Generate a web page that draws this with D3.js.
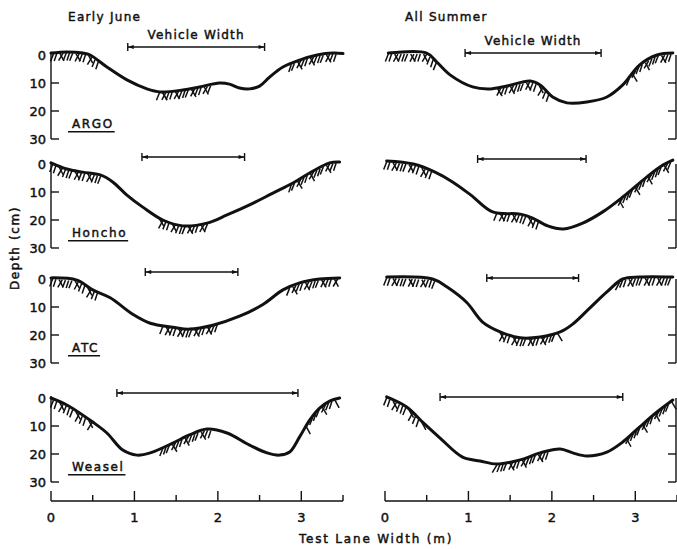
<!DOCTYPE html>
<html><head><meta charset="utf-8">
<script src="https://cdn.jsdelivr.net/npm/d3@7"></script>
<style>body{margin:0;background:#fff}svg{display:block}text{font-family:"DejaVu Sans",sans-serif;fill:#111;stroke:#111;stroke-width:0.45px}</style>
</head><body><svg id="c" width="677" height="549"></svg>
<script>
// ---------- data ----------
const vehicles = ["ARGO", "Honcho", "ATC", "Weasel"];
const seasons = ["Early June", "All Summer"];
const xTickLabels = [0, 1, 2, 3];
const yTickLabels = [0, 10, 20, 30];

// profiles: [lane width (m), depth (cm)]
const argoJune = [[0,-0.7],[0.19,-1.1],[0.38,-0.7],[0.47,0],[0.67,4.3],[0.91,8.9],[1.15,12.1],[1.31,13.2],[1.58,12.5],[1.78,11.4],[2.02,10],[2.14,10.4],[2.26,11.8],[2.38,12.1],[2.5,11.1],[2.62,7.9],[2.78,4.3],[2.98,1.8],[3.19,0],[3.38,-0.7],[3.5,-0.5]];
const argoSummer = [[0.04,-0.7],[0.5,-0.7],[0.62,2.5],[0.78,7.1],[1.05,11.4],[1.26,12.1],[1.46,11.1],[1.74,9.3],[1.86,10.7],[2.01,15],[2.18,17.1],[2.42,16.8],[2.66,15],[2.85,10.7],[3.05,3.6],[3.26,0],[3.45,-0.7]];
const honchoJune = [[0,-0.4],[0.19,1.8],[0.38,2.9],[0.59,3.9],[0.74,6.4],[0.91,11.1],[1.1,15.4],[1.34,20],[1.58,22.1],[1.87,21.1],[2.11,18.2],[2.38,14.6],[2.66,10.4],[2.9,6.8],[3.1,3.2],[3.34,-0.4],[3.46,-0.7]];
const honchoSummer = [[0.02,-1.1],[0.34,0],[0.6,2.9],[0.81,6.4],[1.03,11.1],[1.29,17.1],[1.62,17.9],[1.77,19.3],[1.95,22.1],[2.14,23.2],[2.37,21.1],[2.61,17.1],[2.85,11.8],[3.14,4.6],[3.33,0.4],[3.45,-1.4]];
const atcJune = [[0,-0.4],[0.31,0.4],[0.5,3.9],[0.71,6.7],[0.98,12.6],[1.19,15.8],[1.46,17.2],[1.66,17.9],[1.94,16.5],[2.26,13.3],[2.54,9.1],[2.78,3.9],[2.98,1.4],[3.22,0],[3.46,-0.4]];
const atcSummer = [[0.02,-0.7],[0.57,0],[0.74,2.8],[0.98,8.4],[1.17,15.4],[1.38,18.9],[1.62,21],[1.86,20.7],[2.1,18.9],[2.25,16.1],[2.46,10.2],[2.66,4.6],[2.85,0],[3.05,-0.7],[3.45,-0.7]];
const weaselJune = [[0,0],[0.19,2.5],[0.5,8.6],[0.67,12.5],[0.86,18.6],[1.03,20.4],[1.19,19.6],[1.46,16.1],[1.66,13.2],[1.87,11.1],[2.11,12.5],[2.38,16.8],[2.59,19.6],[2.74,20.4],[2.86,19.3],[2.98,13.9],[3.1,7.9],[3.22,3.6],[3.34,1.1],[3.46,0]];
const weaselSummer = [[0.02,-0.4],[0.26,3.2],[0.46,8.9],[0.66,14.3],[0.93,21.1],[1.14,22.5],[1.34,23.6],[1.62,22.1],[1.86,19.6],[2.1,18.2],[2.25,19.6],[2.42,20.7],[2.66,19.3],[2.85,15.7],[3.05,10.4],[3.26,5],[3.45,0.7]];

// vehicle width spans (m)
const widthJune = [[0.92,2.56],[1.09,2.32],[1.13,2.24],[0.79,2.96]];
const widthSummer = [[0.96,2.59],[1.11,2.41],[1.22,2.32],[0.66,2.85]];

// hatched (undisturbed soil) stretches (m)
const hatchJune = [
  [[0.03,0.6],[1.3,1.93],[2.88,3.42]],
  [[0.02,0.6],[1.3,1.9],[2.88,3.44]],
  [[0.02,0.57],[1.34,2.02],[2.86,3.44]],
  [[0.03,0.52],[1.34,1.94],[3.06,3.44]]
];
const hatchSummer = [
  [[0.04,0.62],[1.35,1.98],[2.93,3.44]],
  [[0.02,0.56],[1.34,1.86],[2.81,3.44]],
  [[0.02,0.62],[1.38,2.1],[2.81,3.44]],
  [[0.02,0.46],[1.34,1.98],[2.9,3.44]]
];

const profiles = [[argoJune, argoSummer],[honchoJune, honchoSummer],[atcJune, atcSummer],[weaselJune, weaselSummer]];
const widths = [widthJune, widthSummer];
const hatches = [hatchJune, hatchSummer];

// ---------- layout ----------
const svg = d3.select("#c");
svg.append("rect").attr("width",677).attr("height",549).attr("fill","#fff");
const colLeft = [51, 385];
const colW = 292;
const rowTop = [55, 164, 279, 398];
const pxPerCm = 2.8;
const barY = [[-8,-2],[-7,-5],[-7,-1],[-5,-1]];
const ink = "#111";

const xScales = colLeft.map(l => d3.scaleLinear().domain([0,3.5]).range([l, l+colW]));
const yScales = rowTop.map(t => d3.scaleLinear().domain([0,30]).range([t, t+30*pxPerCm]));

const hatchPat = [-3,-2.5,4,-4.5,-3,-2.5,-3,4.5,-4];

profiles.forEach((row, r) => {
  const y = yScales[r];
  row.forEach((prof, c) => {
    const x = xScales[c];
    const g = svg.append("g");
    const interp = d3.scaleLinear().domain(prof.map(d=>d[0])).range(prof.map(d=>d[1])).clamp(true);
    // hatching
    let k = 0;
    hatches[c][r].forEach(([a,b]) => {
      const px0 = x(a), px1 = x(b);
      for (let px = px0; px <= px1; px += 3.2) {
        const yy = y(interp(x.invert(px)));
        const dx = hatchPat[k++ % hatchPat.length];
        g.append("line").attr("x1",px).attr("y1",yy+1).attr("x2",px+dx).attr("y2",yy+8.5)
          .attr("stroke",ink).attr("stroke-width",1.5);
      }
    });
    // profile
    const line = d3.line().x(d=>x(d[0])).y(d=>y(d[1])).curve(d3.curveCatmullRom.alpha(0.5));
    g.append("path").attr("d",line(prof)).attr("fill","none").attr("stroke",ink)
      .attr("stroke-width",3).attr("stroke-linejoin","round").attr("stroke-linecap","round");
    // vehicle width bar
    const [wa, wb] = widths[c][r];
    const by = y(0) + barY[r][c];
    g.append("line").attr("x1",x(wa)).attr("x2",x(wb)).attr("y1",by).attr("y2",by).attr("stroke",ink).attr("stroke-width",1.4);
    [wa, wb].forEach((w,i) => {
      g.append("line").attr("x1",x(w)).attr("x2",x(w)).attr("y1",by-4).attr("y2",by+4).attr("stroke",ink).attr("stroke-width",1.4);
      const s = i===0 ? 1 : -1;
      g.append("path").attr("d",`M${x(w)},${by} L${x(w)+s*6},${by-2} L${x(w)+s*6},${by+2} Z`).attr("fill",ink);
    });
    if (r === 0) {
      g.append("text").attr("x",(x(wa)+x(wb))/2).attr("y",by-8).attr("text-anchor","middle")
        .attr("font-size",12).attr("letter-spacing",1.2).text("Vehicle Width");
    }
    // y axes
    if (c === 0) {
      const ax = x(0);
      g.append("line").attr("x1",ax).attr("x2",ax).attr("y1",y(0)-2).attr("y2",y(30)).attr("stroke",ink).attr("stroke-width",1.4);
      [10,20,30].forEach(t => g.append("line").attr("x1",ax).attr("x2",ax+8).attr("y1",y(t)).attr("y2",y(t)).attr("stroke",ink).attr("stroke-width",1.4));
      yTickLabels.forEach(t => g.append("text").attr("x",ax-5).attr("y",y(t)+5).attr("text-anchor","end")
        .attr("font-size",13).text(t));
      const lbl = g.append("text").attr("x",ax+21).attr("y",y(26)).attr("font-size",12).attr("letter-spacing",1.6).text(vehicles[r]);
      const bb = lbl.node().getBBox();
      g.append("line").attr("x1",bb.x-4).attr("x2",bb.x+bb.width+1).attr("y1",y(26)+4).attr("y2",y(26)+4).attr("stroke",ink).attr("stroke-width",1.4);
    } else {
      const ax = x(3.5) - 1;
      g.append("line").attr("x1",ax).attr("x2",ax).attr("y1",y(0)).attr("y2",y(30)).attr("stroke",ink).attr("stroke-width",1.4);
      [10,20,30].forEach(t => g.append("line").attr("x1",ax).attr("x2",ax-8).attr("y1",y(t)).attr("y2",y(t)).attr("stroke",ink).attr("stroke-width",1.4));
    }
  });
});

// season titles
svg.append("text").attr("x",68).attr("y",21).attr("font-size",12).attr("letter-spacing",1.3).text(seasons[0]);
svg.append("text").attr("x",405).attr("y",21).attr("font-size",12).attr("letter-spacing",1.3).text(seasons[1]);

// x axes
const axY = 501;
xScales.forEach(x => {
  const g = svg.append("g");
  g.append("line").attr("x1",x(0)).attr("x2",x(3.5)).attr("y1",axY).attr("y2",axY).attr("stroke",ink).attr("stroke-width",1.4);
  d3.range(0,3.51,0.5).forEach(t => {
    const major = Number.isInteger(t);
    g.append("line").attr("x1",x(t)).attr("x2",x(t)).attr("y1",axY).attr("y2",axY-(major?10:6)).attr("stroke",ink).attr("stroke-width",1.4);
  });
  xTickLabels.forEach(t => g.append("text").attr("x",x(t)).attr("y",522).attr("text-anchor","middle").attr("font-size",13).text(t));
});

svg.append("text").attr("x",376).attr("y",543).attr("text-anchor","middle").attr("font-size",12).attr("letter-spacing",1.8).text("Test Lane Width (m)");
svg.append("text").attr("transform","translate(19,248) rotate(-90)").attr("text-anchor","middle").attr("font-size",12).attr("letter-spacing",1.6).text("Depth (cm)");
</script></body></html>
